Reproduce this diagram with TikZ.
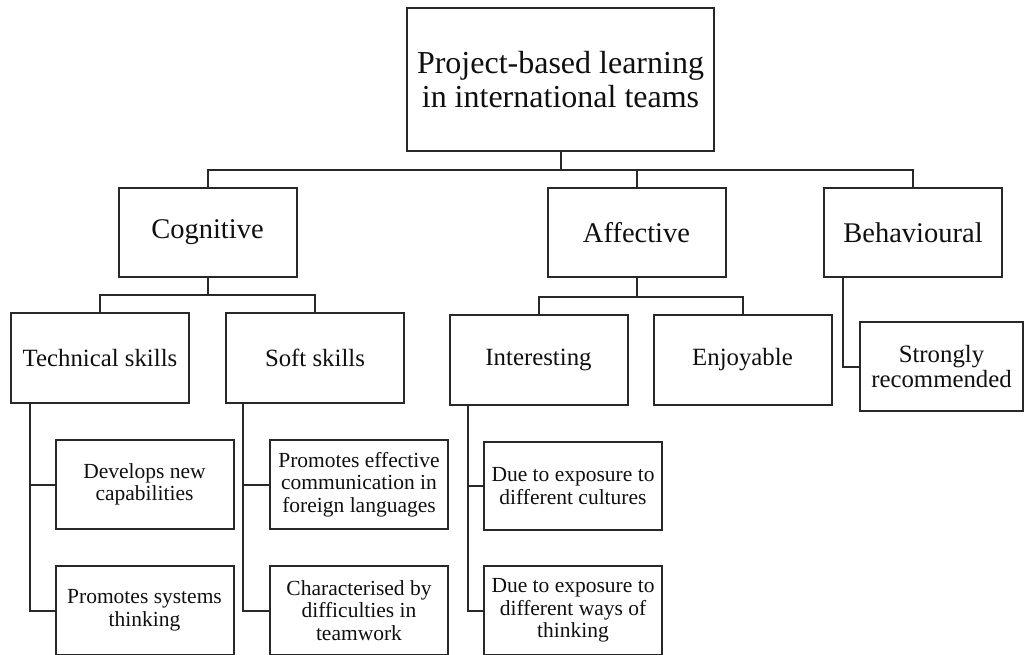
\documentclass[tikz,border=0pt]{standalone}
\usepackage{fontspec}
\setmainfont{Liberation Serif}
\usetikzlibrary{positioning}
\definecolor{linegray}{RGB}{40, 40, 40}
\definecolor{inkblack}{RGB}{15, 15, 15}
\tikzset{
  box/.style={
    rectangle, draw=linegray, line width=2pt,
    inner sep=0pt, outer sep=0pt,
    text=inkblack, align=center
  },
  rootbox/.style={
    box, minimum width=307pt, minimum height=143pt,
    font=\fontsize{32}{34}\selectfont
  },
  dimbox/.style={
    box, minimum width=178pt, minimum height=89pt,
    font=\fontsize{28.5}{30}\selectfont
  },
  subbox/.style={
    box, minimum width=178pt, minimum height=90pt,
    font=\fontsize{24.8}{24.5}\selectfont
  },
  leafbox/.style={
    box, minimum width=178pt, minimum height=89pt,
    font=\fontsize{21.5}{22.5}\selectfont
  },
  link/.style={
    draw=linegray, line width=2pt
  }
}

\begin{document}
\begin{tikzpicture}[x=1pt, y=-1pt]

  \useasboundingbox (0,0) rectangle (1024,655);

  % ── Root ───────────────────────────────────────────────
  \node[rootbox] (root) at (560.5,79.5)
    {Project-based learning\\in international teams};

  % ── Three dimensions ───────────────────────────────────
  \node[dimbox] (cog) at (207.5,232.5) {Cognitive};
  \node[dimbox] (aff) at (636.5,232.5) {Affective};
  \node[dimbox] (beh) at (913,232.5)   {Behavioural};

  % ── Second level ───────────────────────────────────────
  \node[subbox] (tech)  at (100,358)   {Technical skills};
  \node[subbox, right=37pt of tech] (soft) {Soft skills};
  \node[subbox] (intr)  at (538.5,360) {Interesting};
  \node[subbox, right=26pt of intr] (enjoy) {Enjoyable};
  \node[subbox, minimum width=163pt, minimum height=89pt]
    (strong) at (941.5,366.5) {Strongly\\recommended};

  % ── Leaves ─────────────────────────────────────────────
  \node[leafbox] (dev) at (144.5,484.5) {Develops new\\capabilities};
  \node[leafbox, below=37pt of dev] (sys)
    {Promotes systems\\thinking};
  \node[leafbox] (comm) at (359,484.5)
    {Promotes effective\\communication in\\foreign languages};
  \node[leafbox, below=37pt of comm] (diff)
    {Characterised by\\difficulties in\\teamwork};
  \node[leafbox, minimum height=88pt] (cult) at (573,486)
    {Due to exposure to\\different cultures};
  \node[leafbox, below=36pt of cult] (ways)
    {Due to exposure to\\different ways of\\thinking};

  % ── Bars: root → dimensions ───────────────────────────
  \coordinate[below=19pt of root.south] (rootbar);
  \draw[link] (root.south) -- (rootbar);
  \draw[link] (cog.north) |- (rootbar) -| (beh.north);
  \draw[link] (aff.north) -- (aff.north |- rootbar);

  % ── Bars: dimensions → second level ───────────────────
  \coordinate[below=18pt of cog.south] (cogbar);
  \draw[link] (cog.south) -- (cogbar);
  \draw[link] (tech.north) |- (cogbar) -| (soft.north);

  \coordinate[below=20pt of aff.south] (affbar);
  \draw[link] (aff.south) -- (affbar);
  \draw[link] (intr.north) |- (affbar) -| (enjoy.north);

  % ── Side branches to the leaves ───────────────────────
  \foreach \p/\c/\s in {tech/dev/19, tech/sys/19, soft/comm/17, soft/diff/17,
                        intr/cult/18, intr/ways/18, beh/strong/19}{
    \draw[link] ([xshift=\s pt]\p.south west) |- (\c.west);
  }

\end{tikzpicture}
\end{document}
